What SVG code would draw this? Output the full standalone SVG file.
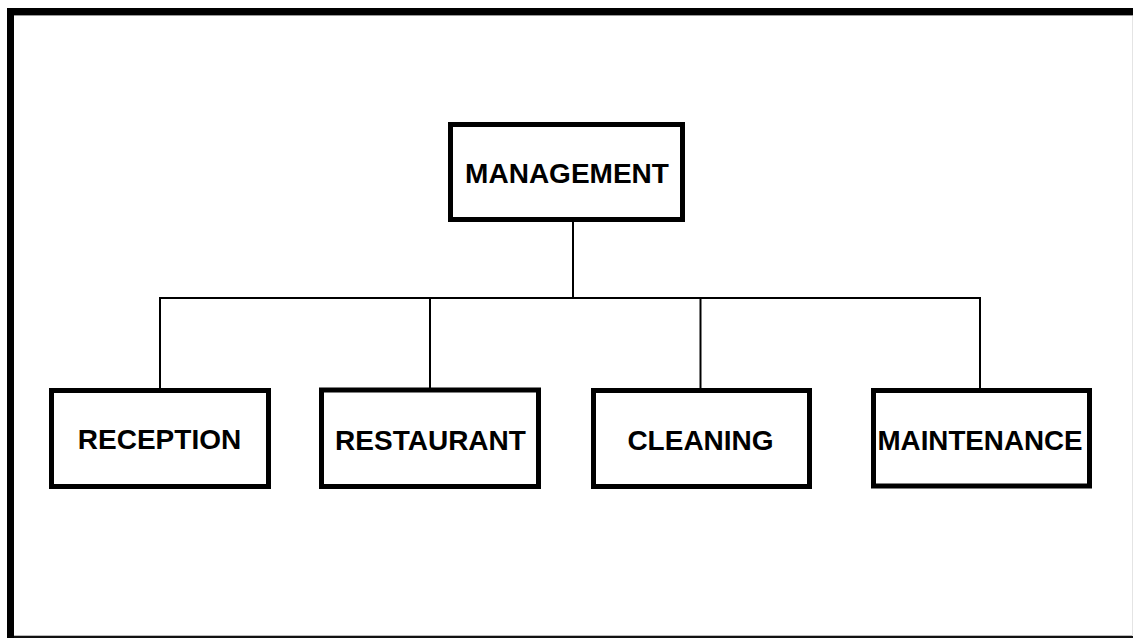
<svg xmlns="http://www.w3.org/2000/svg" width="1133" height="638" viewBox="0 0 1133 638">
  <style>
    .box { fill: #fff; stroke: #000; stroke-width: 5; }
    .label { font-family: "Liberation Sans", Arial, sans-serif; font-weight: bold; font-size: 28px; fill: #000; text-anchor: middle; }
    .wire { fill: none; stroke: #000; stroke-width: 2; }
  </style>
  <rect x="0" y="0" width="1133" height="638" fill="#fff"/>
  <!-- page frame -->
  <g id="frame">
    <rect x="7" y="8" width="1126" height="7" fill="#000"/>
    <rect x="7" y="15" width="1126" height="1" fill="#999"/>
    <rect x="7" y="8" width="7" height="630" fill="#000"/>
    <rect x="14" y="635" width="1119" height="1" fill="#bbb"/>
    <rect x="14" y="636" width="1119" height="2" fill="#111"/>
    <rect x="1132" y="16" width="1" height="620" fill="#e4e4e4"/>
  </g>
  <!-- connectors -->
  <g id="connectors">
    <path class="wire" d="M573 221 V298"/>
    <path class="wire" d="M160 298 H980"/>
    <path class="wire" d="M160 297 V389"/>
    <path class="wire" d="M430 297 V389"/>
    <path class="wire" d="M700.5 297 V389"/>
    <path class="wire" d="M980 297 V389"/>
  </g>
  <g id="management">
    <rect class="box" x="450.5" y="124.5" width="232" height="95"/>
    <text class="label" x="567" y="183">MANAGEMENT</text>
  </g>
  <g id="reception">
    <rect class="box" x="51.5" y="390.5" width="217" height="96"/>
    <text class="label" x="159.5" y="449">RECEPTION</text>
  </g>
  <g id="restaurant">
    <rect class="box" x="321.5" y="390" width="217" height="96.5"/>
    <text class="label" x="430.5" y="450">RESTAURANT</text>
  </g>
  <g id="cleaning">
    <rect class="box" x="593.5" y="390.5" width="216" height="96"/>
    <text class="label" x="700.5" y="450">CLEANING</text>
  </g>
  <g id="maintenance">
    <rect class="box" x="873.5" y="390.5" width="216" height="95.5"/>
    <text class="label" x="980" y="450" textLength="205" lengthAdjust="spacingAndGlyphs">MAINTENANCE</text>
  </g>
</svg>
